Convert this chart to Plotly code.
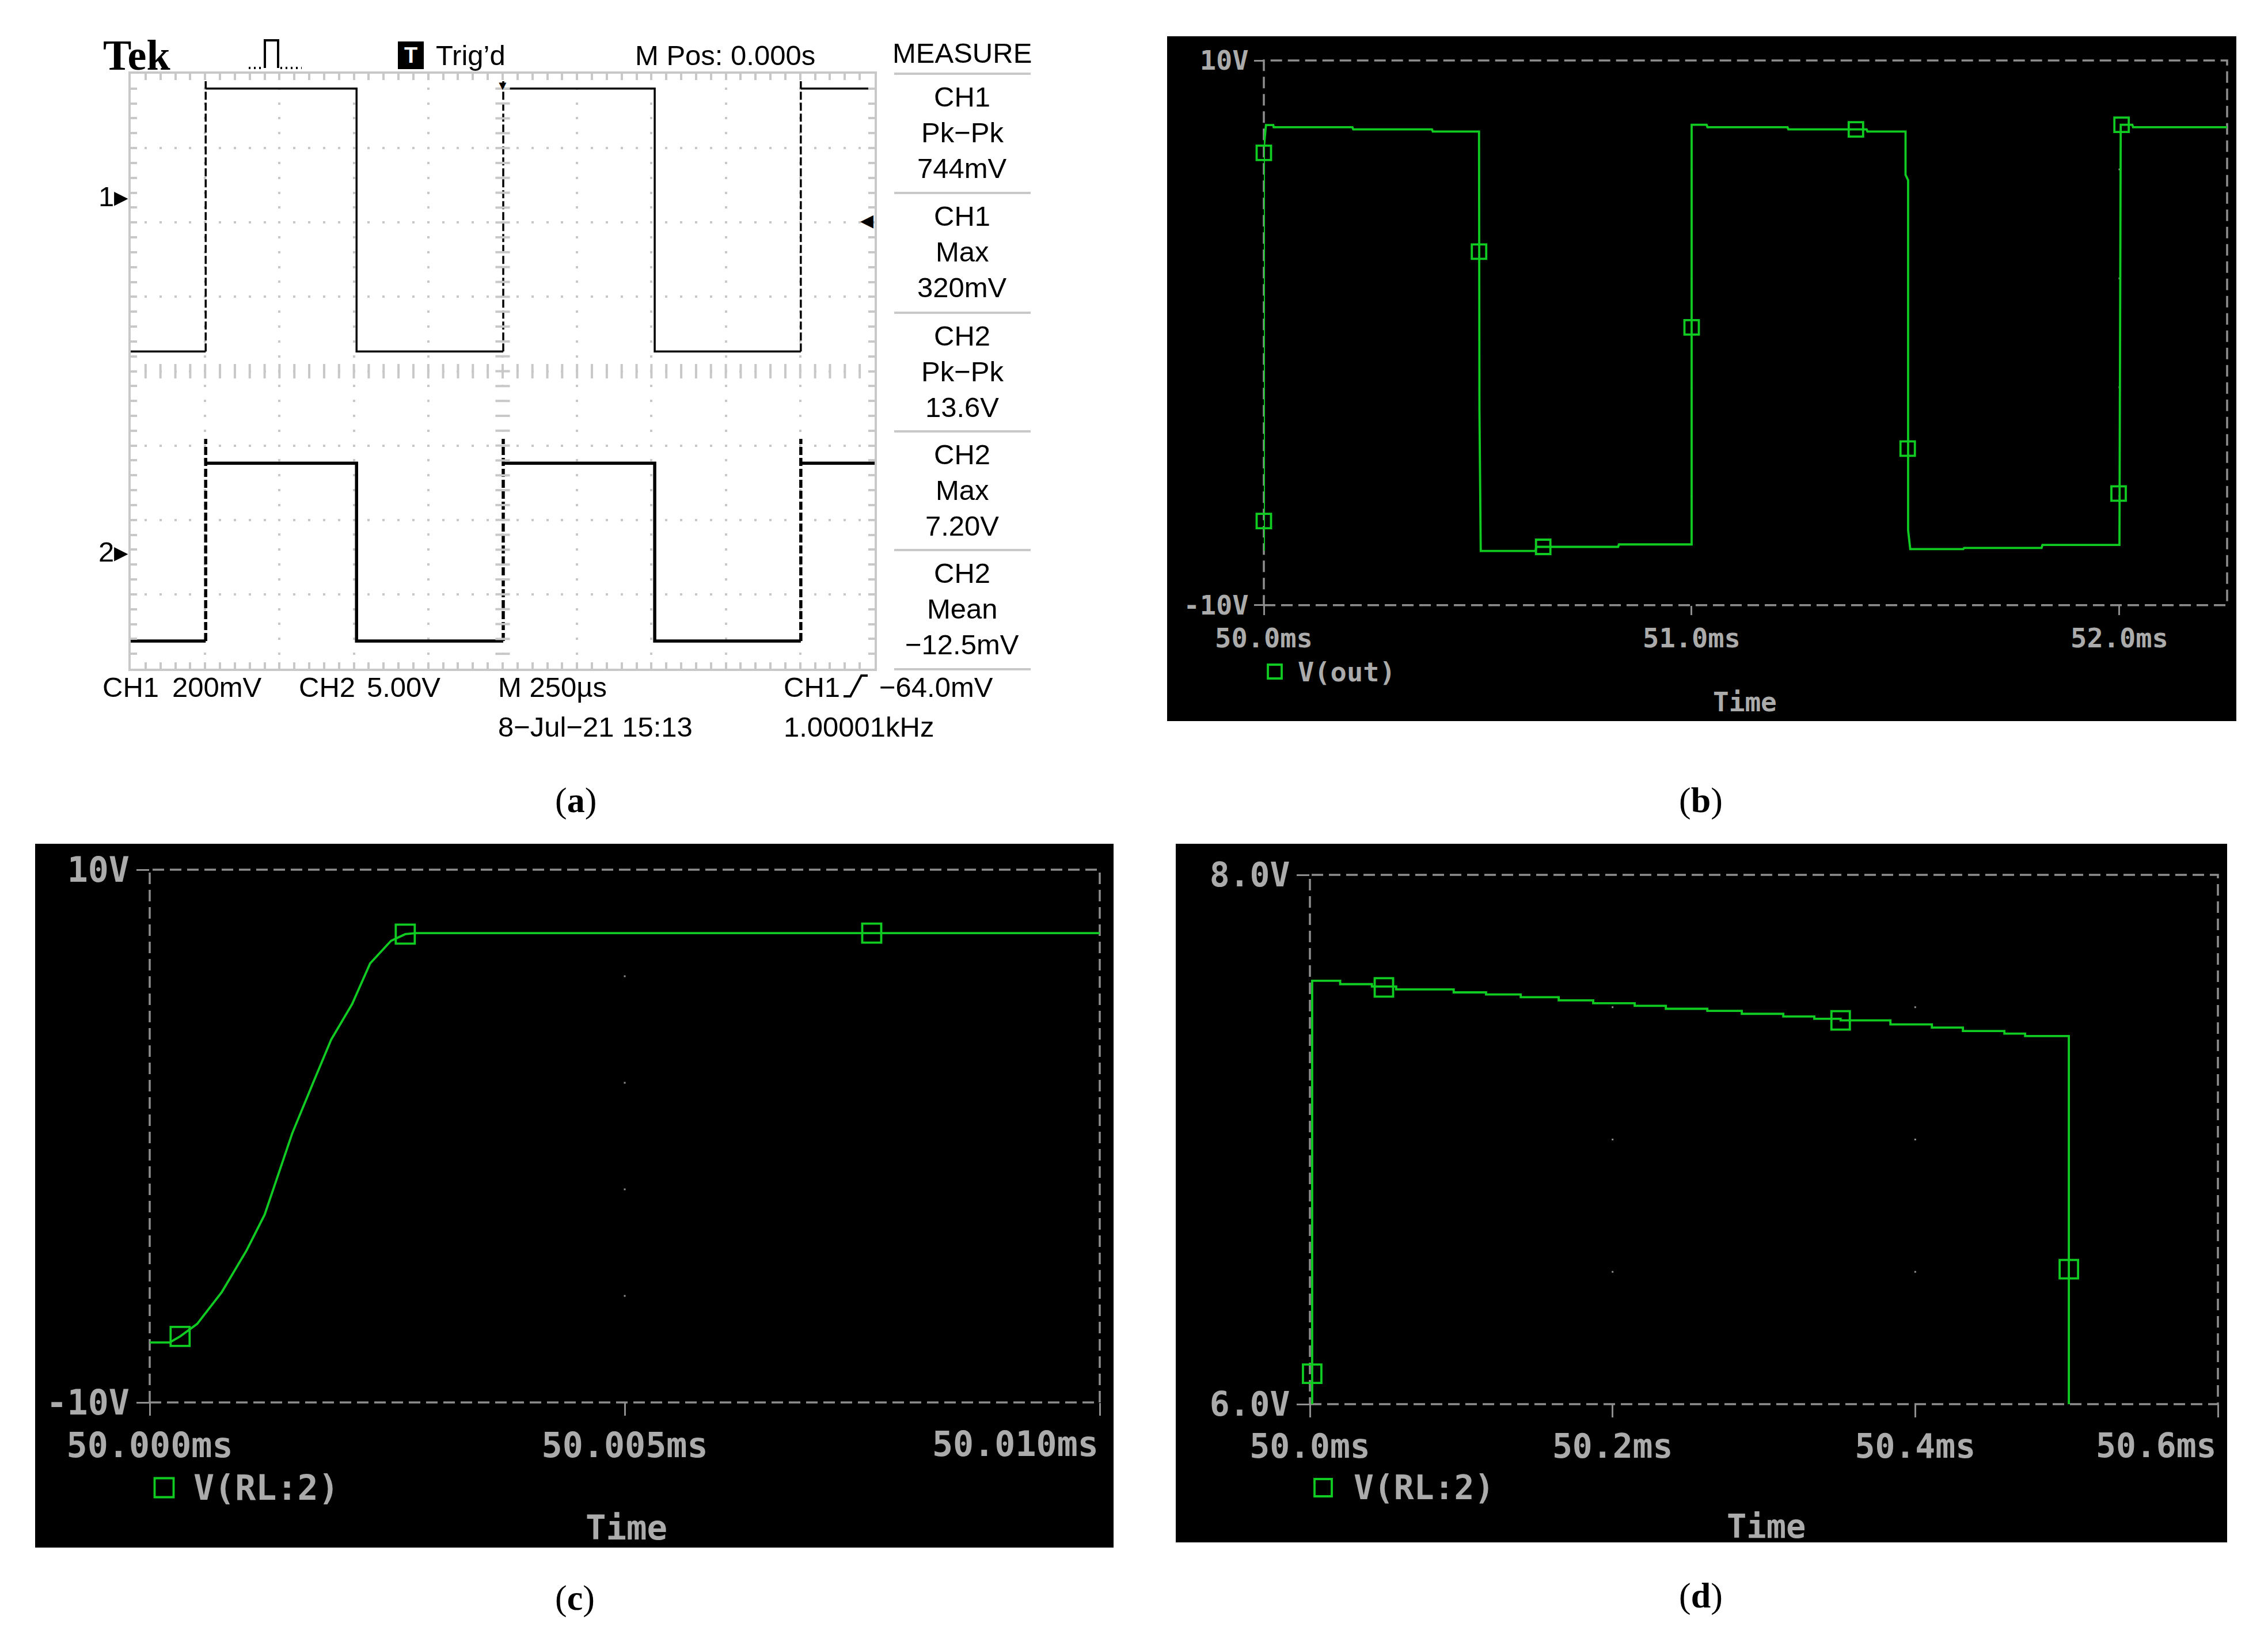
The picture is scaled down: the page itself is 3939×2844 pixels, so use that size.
import itertools
import numpy as np
import plotly.graph_objects as go

W, H = 3939, 2844
OFF = 8  # page body margin of the browser; positions below are in screenshot pixels

# ============================ DATA ============================
# (a) Tektronix capture: time in microseconds (M 250 us/div, trigger at 0)
scope_rise_us = [-998, 2, 1002]
scope_fall_us = [-491, 511]
ch1_low_mV, ch1_high_mV, ch1_peak_mV = -417, 290, 310
ch2_low_V, ch2_high_V, ch2_peak_V = -5.99, 5.96, 7.6
ch1_mV_per_div = 200.0
ch2_V_per_div = 5.0
ch1_ground_div = 2.35
ch2_ground_div = -2.43
ch1_trigger_mV = -64.0

measure_channels = ["CH1", "CH1", "CH2", "CH2", "CH2"]
measure_names = ["Pk\u2212Pk", "Max", "Pk\u2212Pk", "Max", "Mean"]
measure_values = ["744mV", "320mV", "13.6V", "7.20V", "\u221212.5mV"]

# (b) PSpice V(out)  (time in ms, volts)
b_time_ms = [50.000, 50.000, 50.005, 50.022, 50.023, 50.207, 50.209, 50.393, 50.395,
             50.503, 50.504, 50.507, 50.635, 50.637, 50.828, 50.830, 51.000,
             51.000, 51.035, 51.037, 51.224, 51.226, 51.409, 51.411, 51.500,
             51.500, 51.506, 51.506, 51.511, 51.635, 51.637, 51.818, 51.820, 52.000,
             52.003, 52.030, 52.032, 52.252]
b_volt = [-8.00, 6.80, 7.63, 7.63, 7.55, 7.55, 7.47, 7.47, 7.39,
          7.39, -2.80, -8.01, -8.01, -7.86, -7.86, -7.77, -7.77,
          7.64, 7.64, 7.55, 7.55, 7.47, 7.47, 7.39, 7.39,
          5.80, 5.60, -7.25, -7.94, -7.94, -7.90, -7.90, -7.79, -7.79,
          7.64, 7.64, 7.55, 7.55]
b_marker_time_ms = [50.000, 50.000, 50.503, 50.653, 51.000, 51.384, 51.505, 51.998, 52.005]
b_marker_volt = [6.61, -6.91, 2.98, -7.86, 0.20, 7.47, -4.25, -5.90, 7.64]
b_time_ticks = [50.0, 51.0, 52.0]
b_time_labels = ["50.0ms", "51.0ms", "52.0ms"]
b_volt_ticks = [10, -10]
b_volt_labels = ["10V", "-10V"]
b_grid_ms = [51.0, 52.0]
b_grid_volt = [6, 2, -2, -6]

# (c) PSpice V(RL:2), rising edge zoom
c_time_ms = [50.00000, 50.00021, 50.00032, 50.00050, 50.00076, 50.00102, 50.00121,
             50.00150, 50.00172, 50.00191, 50.00213, 50.00232, 50.00254, 50.00269,
             50.00280, 50.01000]
c_volt = [-7.75, -7.75, -7.52, -7.05, -5.85, -4.29, -2.95,
          0.10, 2.00, 3.62, 4.95, 6.48, 7.33, 7.58,
          7.62, 7.62]
c_marker_time_ms = [50.00032, 50.00269, 50.00760]
c_marker_volt = [-7.52, 7.58, 7.62]
c_time_ticks = [50.000, 50.005, 50.010]
c_time_labels = ["50.000ms", "50.005ms", "50.010ms"]
c_volt_ticks = [10, -10]
c_volt_labels = ["10V", "-10V"]
c_grid_ms = [50.005]
c_grid_volt = [6, 2, -2, -6]

# (d) PSpice V(RL:2), pulse top (step drawn)
d_time_ms = [50.0015, 50.0015, 50.0200, 50.0410, 50.0570, 50.0950, 50.1164, 50.1393,
             50.1644, 50.1872, 50.2146, 50.2352, 50.2626, 50.2854, 50.3128, 50.3333,
             50.3507, 50.3836, 50.4110, 50.4315, 50.4589, 50.4726, 50.5015, 50.5015]
d_volt = [6.00, 7.600, 7.587, 7.578, 7.567, 7.556, 7.548, 7.538,
          7.526, 7.515, 7.505, 7.494, 7.486, 7.475, 7.465, 7.456,
          7.450, 7.435, 7.423, 7.410, 7.400, 7.391, 7.389, 6.00]
d_marker_time_ms = [50.0015, 50.0489, 50.3507, 50.5015]
d_marker_volt = [6.115, 7.575, 7.450, 6.51]
d_time_ticks = [50.0, 50.2, 50.4, 50.6]
d_time_labels = ["50.0ms", "50.2ms", "50.4ms", "50.6ms"]
d_volt_ticks = [8.0, 6.0]
d_volt_labels = ["8.0V", "6.0V"]
d_grid_ms = [50.2, 50.4]
d_grid_volt = [7.5, 7.0, 6.5]

panel_captions = ["a", "b", "c", "d"]

# ============================ STYLE ============================
NARROW = "Liberation Sans Narrow, Arial Narrow, Liberation Sans, Arial, sans-serif"
SANS = "Liberation Sans, Arial, sans-serif"
SERIF = "Liberation Serif, Times New Roman, serif"
MONO = "DejaVu Sans Mono, Liberation Mono, monospace"
SCOPE_FS = 49
GRID = "#c8c8c8"
SP_TXT = "#ababab"
SP_DASH = "#8e8e8e"
GREEN = "#10cc22"
SP_LW = 3.8


def P(x, y):
    return (x - OFF) / W, 1 - (y - OFF) / H


def dom_x(x0, x1):
    return [(x0 - OFF) / W, (x1 - OFF) / W]


def dom_y(top, bottom):
    return [1 - (bottom - OFF) / H, 1 - (top - OFF) / H]


annotations = []
shapes = []


def text(s, x, y, size, family, color="black", xanchor="center", yanchor="middle", **kw):
    ax, ay = P(x, y)
    annotations.append(dict(text=s, x=ax, y=ay, xref="paper", yref="paper",
                            xanchor=xanchor, yanchor=yanchor, showarrow=False,
                            font=dict(size=size, family=family, color=color), **kw))


def pline(pts, color="black", width=4, dash="solid"):
    path = "M " + " L ".join("%.6f,%.6f" % P(x, y) for x, y in pts)
    shapes.append(dict(type="path", path=path, xref="paper", yref="paper",
                       line=dict(color=color, width=width, dash=dash), layer="above"))


def prect(x0, y0, x1, y1, fill=None, line_color=None, width=0, layer="below"):
    a0, b0 = P(x0, y0)
    a1, b1 = P(x1, y1)
    shapes.append(dict(type="rect", xref="paper", yref="paper", x0=a0, y0=b1, x1=a1, y1=b0,
                       fillcolor=fill if fill else "rgba(0,0,0,0)",
                       line=dict(color=line_color if line_color else "rgba(0,0,0,0)", width=width),
                       layer=layer))


fig = go.Figure()

# ============================ (a) SCOPE ============================
def scope_wave(rises, falls, low, high, peak, t0, t1):
    events = sorted([(t, 1) for t in rises] + [(t, 0) for t in falls])
    sx, sy, dx, dy = [t0], [low], [], []
    for t, up in events:
        if up:
            sx += [t, None, t]
            sy += [low, None, high]
            dx += [t, t, None]
            dy += [low, peak, None]
        else:
            sx += [t, t]
            sy += [high, low]
    sx.append(t1)
    sy.append(high if events[-1][1] else low)
    return sx, sy, dx, dy


def to_div(vals, ground, scale):
    return [None if v is None else ground + v / scale for v in vals]


T0, T1 = -1250, 1250
for (lo, hi, pk, gnd, scl, lw) in [(ch1_low_mV, ch1_high_mV, ch1_peak_mV, ch1_ground_div, ch1_mV_per_div, 3.5),
                                   (ch2_low_V, ch2_high_V, ch2_peak_V, ch2_ground_div, ch2_V_per_div, 5.5)]:
    sx, sy, dx, dy = scope_wave(scope_rise_us, scope_fall_us, lo, hi, pk, T0, T1)
    fig.add_trace(go.Scatter(x=sx, y=to_div(sy, gnd, scl), mode="lines", xaxis="x", yaxis="y",
                             line=dict(color="black", width=lw), showlegend=False, hoverinfo="skip"))
    fig.add_trace(go.Scatter(x=dx, y=to_div(dy, gnd, scl), mode="lines", xaxis="x", yaxis="y",
                             line=dict(color="black", width=lw, dash="14px,5px"),
                             showlegend=False, hoverinfo="skip"))

# graticule centre-line tick marks (every minor division)
cx = np.arange(T0 + 50, T1, 50)
cy = np.arange(-3.8, 3.81, 0.2)
fig.add_trace(go.Scatter(x=cx, y=np.zeros_like(cx), mode="markers", xaxis="x", yaxis="y",
                         marker=dict(symbol="line-ns", size=18, line=dict(color=GRID, width=4)),
                         showlegend=False, hoverinfo="skip"))
fig.add_trace(go.Scatter(x=np.zeros_like(cy), y=cy, mode="markers", xaxis="x", yaxis="y",
                         marker=dict(symbol="line-ew", size=18, line=dict(color=GRID, width=4)),
                         showlegend=False, hoverinfo="skip"))

A_X = (227, 1519)
A_Y = (128, 1161)
scope_ax = dict(showgrid=True, gridcolor=GRID, gridwidth=4, ticks="inside", ticklen=11,
                tickwidth=4, tickcolor=GRID, showline=True, linecolor=GRID, linewidth=4,
                mirror="allticks", showticklabels=False, zeroline=False, fixedrange=True,
                automargin=False)
xa = dict(domain=dom_x(*A_X), range=[T0, T1], anchor="y", tick0=0, dtick=250,
          griddash="2px,21.82px,2px,0px",
          minor=dict(dtick=50, ticks="inside", ticklen=11, tickwidth=4, tickcolor=GRID, showgrid=False),
          **scope_ax)
ya = dict(domain=dom_y(*A_Y), range=[-4, 4], anchor="x", tick0=0, dtick=1,
          griddash="2px,21.84px,2px,0px",
          minor=dict(dtick=0.2, ticks="inside", ticklen=11, tickwidth=4, tickcolor=GRID, showgrid=False),
          **scope_ax)

# channel ground markers and trigger level
annotations.append(dict(text="1\u25b8", x=T0, y=ch1_ground_div, xref="x", yref="y", xanchor="right",
                        xshift=-2, showarrow=False, font=dict(size=SCOPE_FS, family=NARROW, color="black")))
annotations.append(dict(text="2\u25b8", x=T0, y=ch2_ground_div, xref="x", yref="y", xanchor="right",
                        xshift=-2, showarrow=False, font=dict(size=SCOPE_FS, family=NARROW, color="black")))
annotations.append(dict(text="\u25c0", x=T1, y=ch1_ground_div + ch1_trigger_mV / ch1_mV_per_div,
                        xref="x", yref="y", xanchor="right", showarrow=False,
                        font=dict(size=30, family=SANS, color="black")))
annotations.append(dict(text="\u25bc", x=0, y=4, xref="x", yref="y", yanchor="top", yshift=-6,
                        showarrow=False, font=dict(size=22, family=SANS, color="black")))

# header
text("<b>Tek</b>", 237, 96, 74, SERIF)
pline([(432, 118), (458, 118)], width=4, dash="3px,6px")
pline([(460, 118), (460, 70), (483, 70), (483, 118)], width=4)
pline([(487, 118), (524, 118)], width=4, dash="3px,6px")
prect(691, 72, 736, 120, fill="black", layer="above")
text("<b>T</b>", 713.5, 96, 38, SANS, color="white")
text("Trig\u2019d", 755, 96, SCOPE_FS, NARROW, xanchor="left")
text("M Pos: 0.000s", 1101, 96, SCOPE_FS, NARROW, xanchor="left")
text("MEASURE", 1671, 92, SCOPE_FS, NARROW)

# measurement column
sep_y = [128, 335, 543, 749, 955, 1162]
for y in sep_y:
    pline([(1553, y), (1790, y)], color=GRID, width=4)
for i, (ch, nm, val) in enumerate(zip(measure_channels, measure_names, measure_values)):
    top = sep_y[i]
    text(ch, 1671, top + 40, SCOPE_FS, NARROW)
    text(nm, 1671, top + 102, SCOPE_FS, NARROW)
    text(val, 1671, top + 164, SCOPE_FS, NARROW)

# footer
text("CH1", 176, 1193, SCOPE_FS, NARROW, xanchor="left")
text("200mV", 297, 1193, SCOPE_FS, NARROW, xanchor="left")
text("CH2", 517, 1193, SCOPE_FS, NARROW, xanchor="left")
text("5.00V", 635, 1193, SCOPE_FS, NARROW, xanchor="left")
text("M 250\u00b5s", 863, 1193, SCOPE_FS, NARROW, xanchor="left")
text("CH1", 1359, 1193, SCOPE_FS, NARROW, xanchor="left")
pline([(1465, 1209), (1477, 1209), (1496, 1173), (1507, 1173)], width=4)
text("\u221264.0mV", 1525, 1193, SCOPE_FS, NARROW, xanchor="left")
text("8\u2212Jul\u221221 15:13", 863, 1262, SCOPE_FS, NARROW, xanchor="left")
text("1.00001kHz", 1359, 1262, SCOPE_FS, NARROW, xanchor="left")

# ============================ PSPICE PANELS ============================
spice = [
    dict(s="2", plot=(2195, 3868, 105, 1050.7), box=(2027, 63, 3884, 1252),
         t=b_time_ms, v=b_volt, mt=b_marker_time_ms, mv=b_marker_volt, shape="linear",
         xr=[50.0, 52.2517], yr=[-10, 10], xt=b_time_ticks, xl=b_time_labels,
         yt=b_volt_ticks, yl=b_volt_labels, gx=b_grid_ms, gy=b_grid_volt,
         fs=47, tl=16, ms=25, name="V(out)", leg=(2214, 1166, 24, 2252), tlab=(3030, 1219),
         right_label=False, label_y=1108),
    dict(s="3", plot=(260, 1910, 1510, 2435), box=(61, 1465, 1934, 2687),
         t=c_time_ms, v=c_volt, mt=c_marker_time_ms, mv=c_marker_volt, shape="linear",
         xr=[50.0, 50.010], yr=[-10, 10], xt=c_time_ticks, xl=c_time_labels,
         yt=c_volt_ticks, yl=c_volt_labels, gx=c_grid_ms, gy=c_grid_volt,
         fs=60, tl=22, ms=33, name="V(RL:2)", leg=(285, 2583, 33, 334), tlab=(1088, 2652),
         right_label=True, label_y=2507),
    dict(s="4", plot=(2275, 3852, 1519, 2438), box=(2042, 1465, 3868, 2678),
         t=d_time_ms, v=d_volt, mt=d_marker_time_ms, mv=d_marker_volt, shape="hv",
         xr=[50.0, 50.6], yr=[6.0, 8.0], xt=d_time_ticks, xl=d_time_labels,
         yt=d_volt_ticks, yl=d_volt_labels, gx=d_grid_ms, gy=d_grid_volt,
         fs=58, tl=22, ms=32, name="V(RL:2)", leg=(2298, 2583, 30, 2349), tlab=(3067, 2650),
         right_label=True, label_y=2510),
]

layout_axes = {"xaxis": xa, "yaxis": ya}
for p in spice:
    s = p["s"]
    x0, x1, yt, yb = p["plot"]
    bx0, by0, bx1, by1 = p["box"]
    prect(bx0, by0, bx1, by1, fill="black", layer="below")
    shapes.append(dict(type="rect", xref="x%s domain" % s, yref="y%s domain" % s,
                       x0=0, x1=1, y0=0, y1=1, layer="below",
                       line=dict(color=SP_DASH, width=3.5, dash="20px,10px")))
    gxy = list(itertools.product(p["gx"], p["gy"]))
    fig.add_trace(go.Scatter(x=[a for a, _ in gxy], y=[b for _, b in gxy], mode="markers",
                             xaxis="x" + s, yaxis="y" + s,
                             marker=dict(symbol="square", size=3, color=SP_DASH, line=dict(width=0)),
                             showlegend=False, hoverinfo="skip"))
    fig.add_trace(go.Scatter(x=p["t"], y=p["v"], mode="lines", xaxis="x" + s, yaxis="y" + s,
                             line=dict(color=GREEN, width=SP_LW, shape=p["shape"]),
                             cliponaxis=False,
                             name=p["name"], showlegend=False, hoverinfo="skip"))
    fig.add_trace(go.Scatter(x=p["mt"], y=p["mv"], mode="markers", xaxis="x" + s, yaxis="y" + s,
                             marker=dict(symbol="square-open", size=p["ms"], color=GREEN,
                                         line=dict(width=SP_LW, color=GREEN)),
                             cliponaxis=False,
                             name=p["name"], showlegend=False, hoverinfo="skip"))
    xl = list(p["xl"])
    if p["right_label"]:
        last = xl[-1]
        xl[-1] = ""
        lx, ly = P(0, p["label_y"])
        annotations.append(dict(text=last, x=p["xt"][-1], y=ly, xref="x" + s, yref="paper",
                                xanchor="right", yanchor="middle", showarrow=False,
                                font=dict(size=p["fs"], family=MONO, color=SP_TXT, weight="bold")))
    tickfont = dict(size=p["fs"], family=MONO, color=SP_TXT, weight="bold")
    layout_axes["xaxis" + s] = dict(domain=dom_x(x0, x1), range=p["xr"], anchor="y" + s,
                                    showgrid=False, zeroline=False, showline=False,
                                    ticks="outside", ticklen=p["tl"], tickwidth=3, tickcolor=SP_DASH,
                                    tickvals=p["xt"], ticktext=xl, tickfont=tickfont,
                                    fixedrange=True, automargin=False)
    layout_axes["yaxis" + s] = dict(domain=dom_y(yt, yb), range=p["yr"], anchor="x" + s,
                                    showgrid=False, zeroline=False, showline=False,
                                    ticks="outside", ticklen=p["tl"], tickwidth=3, tickcolor=SP_DASH,
                                    tickvals=p["yt"], ticktext=p["yl"], tickfont=tickfont,
                                    fixedrange=True, automargin=False)
    lx, ly, lsz, ltx = p["leg"]
    prect(lx - lsz / 2, ly - lsz / 2, lx + lsz / 2, ly + lsz / 2, line_color=GREEN, width=SP_LW,
          layer="above")
    ax_, ay_ = P(ltx, ly)
    annotations.append(dict(text=p["name"], x=ax_, y=ay_, xref="paper", yref="paper",
                            xanchor="left", yanchor="middle", showarrow=False,
                            font=dict(size=p["fs"], family=MONO, color=SP_TXT, weight="bold")))
    tx, ty = P(*p["tlab"])
    annotations.append(dict(text="Time", x=tx, y=ty, xref="paper", yref="paper",
                            xanchor="center", yanchor="middle", showarrow=False,
                            font=dict(size=p["fs"] - 1, family=MONO, color=SP_TXT, weight="bold")))

for lab, (cx_, cy_) in zip(panel_captions, [(1000, 1389), (2954, 1389), (998, 2774), (2954, 2770)]):
    text("(<b>%s</b>)" % lab, cx_, cy_, 62, SERIF)

fig.update_layout(width=W, height=H, margin=dict(l=0, r=0, t=0, b=0, pad=0, autoexpand=False),
                  paper_bgcolor="white", plot_bgcolor="rgba(0,0,0,0)",
                  showlegend=False, annotations=annotations, shapes=shapes, **layout_axes)

fig.write_html("out.html")
